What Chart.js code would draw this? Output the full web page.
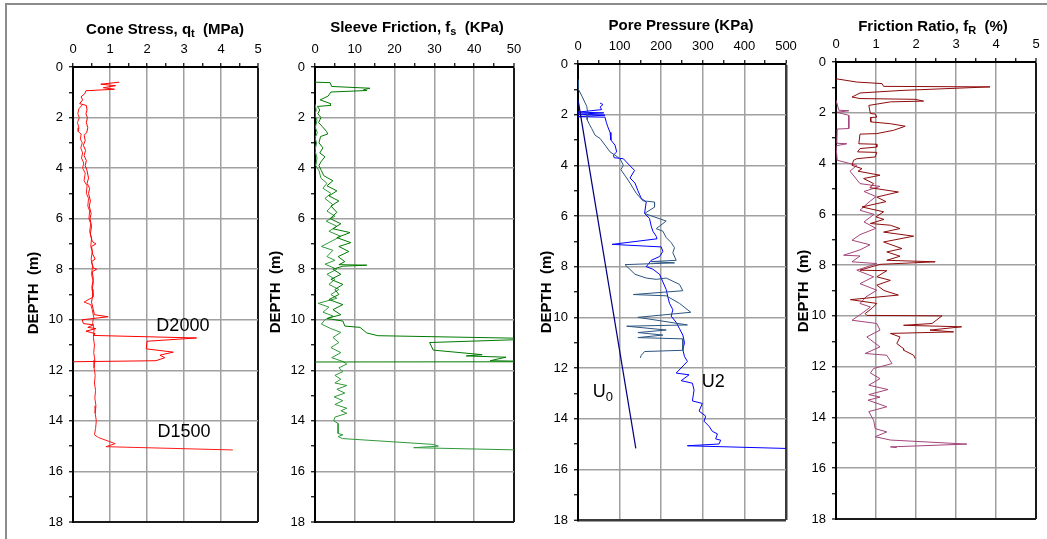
<!DOCTYPE html>
<html><head><meta charset="utf-8">
<script src="https://cdn.jsdelivr.net/npm/chart.js@4.4.1/dist/chart.umd.min.js"></script>
<style>
html,body{margin:0;padding:0;background:#fff;}
#wrap{position:relative;width:1047px;height:539px;overflow:hidden;background:#fff;}
#frame{position:absolute;left:5px;top:3px;width:1200px;height:700px;border-top:2px solid #8c8c8c;border-left:2px solid #8c8c8c;}
canvas{position:absolute;left:0;top:0;}
</style></head><body>
<div id="wrap"><div id="frame"></div>
<canvas id="c1" width="1047" height="539"></canvas>
<canvas id="c2" width="1047" height="539"></canvas>
<canvas id="c3" width="1047" height="539"></canvas>
<canvas id="c4" width="1047" height="539"></canvas>
</div>
<script>
// ---------- DATA : [value, depth(m)] ----------
const depthRange = [0, 18];

// Cone stress qt (MPa)
const qtD2000 = [[1.25,0.60],[0.75,0.68],[1.15,0.74],[0.82,0.82],[1.12,0.88],[0.35,0.94],[0.32,1.05],[0.22,1.18],[0.26,1.30],[0.18,1.45],[0.36,1.52],[0.38,1.70],[0.35,1.85],[0.39,2.00],[0.36,2.20],[0.40,2.40],[0.37,2.60],[0.30,2.70],[0.33,2.90],[0.28,3.10],[0.34,3.30],[0.30,3.50],[0.36,3.70],[0.33,3.90],[0.38,4.10],[0.42,4.40],[0.38,4.60],[0.45,4.80],[0.42,5.00],[0.47,5.30],[0.44,5.50],[0.49,5.80],[0.46,6.00],[0.50,6.30],[0.47,6.60],[0.52,6.90],[0.62,7.00],[0.50,7.10],[0.53,7.40],[0.60,7.60],[0.50,7.70],[0.55,7.95],[0.64,8.00],[0.52,8.10],[0.55,8.40],[0.51,8.70],[0.54,9.00],[0.50,9.30],[0.55,9.60],[0.58,9.80],[0.95,9.88],[0.25,10.00],[0.28,10.15],[0.55,10.20],[0.40,10.30],[0.62,10.35],[0.35,10.45],[0.60,10.55],[0.55,10.62],[3.34,10.72],[2.00,10.85],[1.98,11.15],[2.71,11.28],[2.35,11.40],[2.48,11.50],[2.24,11.62],[0,11.66]];
const qtD1500 = [[0.25,1.50],[0.16,1.65],[0.13,1.85],[0.17,2.00],[0.12,2.20],[0.16,2.40],[0.14,2.55],[0.22,2.65],[0.20,2.85],[0.25,3.00],[0.21,3.20],[0.26,3.40],[0.23,3.60],[0.29,3.80],[0.26,4.00],[0.33,4.20],[0.30,4.50],[0.38,4.70],[0.36,5.00],[0.42,5.20],[0.40,5.50],[0.45,5.70],[0.43,6.00],[0.48,6.20],[0.45,6.50],[0.50,6.80],[0.48,7.10],[0.52,7.30],[0.49,7.60],[0.53,7.90],[0.50,8.20],[0.55,8.50],[0.52,8.80],[0.54,9.10],[0.30,9.30],[0.48,9.40],[0.52,9.60],[0.56,9.90],[0.53,10.10],[0.57,10.40],[0.55,10.70],[0.58,11.00],[0.56,11.30],[0.59,11.60],[0.57,11.90],[0.60,12.20],[0.58,12.50],[0.61,12.80],[0.59,13.10],[0.62,13.40],[0.60,13.70],[0.63,14.00],[0.61,14.30],[0.58,14.55],[0.69,14.66],[1.14,14.90],[0.89,15.02],[4.32,15.15]];

// Sleeve friction fs (kPa)
const fsD2000 = [[0,0.60],[3.8,0.62],[4.2,0.77],[13.8,0.84],[12.2,0.90],[13.0,0.93],[4.0,0.99],[3.3,1.15],[1.3,1.30],[3.9,1.45],[3.9,1.52],[0.6,1.56],[1.2,1.70],[0.7,1.85],[1.5,2.00],[0.9,2.20],[1.8,2.35],[2.9,2.55],[3.2,2.65],[1.4,2.75],[1.0,3.00],[2.0,3.20],[1.2,3.40],[2.5,3.55],[1.5,3.75],[1.0,3.90],[1.6,4.10],[2.2,4.30],[4.5,4.50],[3.0,4.70],[5.5,4.90],[3.5,5.10],[6.0,5.30],[4.0,5.50],[5.5,5.75],[3.8,6.00],[6.5,6.20],[4.5,6.40],[8.8,6.55],[5.5,6.75],[9.0,6.95],[6.0,7.10],[8.5,7.30],[5.8,7.50],[7.5,7.70],[6.0,7.82],[13.0,7.84],[7.0,7.88],[4.5,8.00],[6.5,8.20],[4.0,8.40],[7.0,8.60],[5.0,8.80],[6.0,9.00],[3.5,9.20],[7.0,9.40],[4.5,9.60],[6.5,9.80],[3.0,9.95],[7.0,10.05],[7.5,10.25],[11.3,10.30],[13.0,10.52],[15.8,10.63],[58,10.75],[28.8,10.90],[29.7,11.20],[42,11.38],[38,11.43],[48,11.48],[44,11.62],[60,11.66],[0,11.67]];
const fsD1500 = [[0,1.47],[0.3,1.70],[0,1.90],[0.5,2.10],[0.1,2.40],[0.6,2.60],[0,2.80],[0.4,3.00],[0,3.30],[0.5,3.60],[0.2,3.90],[1.0,4.10],[1.5,4.40],[3.0,4.60],[2.0,4.80],[4.0,5.00],[2.5,5.20],[4.5,5.45],[3.0,5.70],[5.0,5.90],[2.8,6.10],[5.5,6.30],[3.5,6.50],[6.5,6.70],[1.6,7.10],[4.5,7.25],[3.0,7.50],[5.0,7.65],[2.5,7.80],[5.5,8.00],[3.0,8.20],[5.0,8.40],[3.5,8.60],[6.0,8.80],[4.0,9.00],[5.5,9.15],[0.8,9.35],[3.5,9.50],[2.0,9.70],[4.5,9.85],[2.5,10.00],[1.6,10.17],[4.0,10.35],[6.5,10.50],[4.5,10.70],[6.0,10.90],[4.0,11.10],[6.5,11.30],[4.2,11.50],[7.0,11.65],[8.0,11.75],[6.0,11.90],[7.0,12.05],[5.0,12.20],[6.5,12.35],[5.0,12.50],[8.0,12.60],[5.5,12.75],[7.5,12.90],[4.8,13.05],[7.0,13.20],[5.0,13.35],[8.0,13.50],[6.5,13.60],[8.0,13.70],[5.0,13.85],[4.7,14.00],[5.8,14.10],[5.8,14.50],[7.0,14.55],[5.8,14.62],[6.9,14.70],[29.7,14.93],[31.0,15.00],[24.8,15.06],[60,15.18]];

// Pore pressure u2 (kPa) and hydrostatic u0
const u2D2000 = [[1.5,0.62],[0,0.97],[9.5,1.27],[21,1.67],[24,1.99],[22,2.20],[28,2.40],[33,2.55],[41,2.81],[53,2.94],[65,3.20],[77,3.47],[89,3.60],[101,3.74],[109,4.00],[103,4.17],[117,4.50],[125,4.70],[140,5.10],[156,5.40],[184,5.45],[184,5.65],[160,5.90],[212,6.20],[188,6.50],[204,6.60],[212,6.85],[224,7.05],[232,7.25],[228,7.45],[236,7.75],[176,7.80],[232,7.85],[113,7.92],[137,8.30],[164,8.45],[188,8.50],[212,8.45],[244,8.70],[252,8.95],[133,9.10],[212,9.15],[244,9.45],[271,9.80],[144,10.00],[263,10.30],[117,10.35],[212,10.50],[144,10.60],[204,10.70],[144,10.80],[252,10.85],[252,11.30],[160,11.35],[152,11.50],[150,11.60]];
const u2D1500 = [[53,1.54],[60,1.60],[53,1.70],[57,1.80],[0,1.90],[62,1.93],[0,1.98],[65,2.02],[0,2.08],[65,2.10],[68,2.30],[71,2.45],[77,2.70],[79,3.00],[89,3.20],[93,3.47],[85,3.60],[87,3.70],[109,3.74],[124,4.00],[136,4.20],[125,4.50],[137,4.70],[144,5.00],[152,5.30],[164,5.45],[160,5.90],[172,6.10],[176,6.40],[180,6.60],[188,6.80],[190,6.90],[82,7.12],[200,7.22],[204,7.40],[196,7.60],[176,7.75],[164,8.00],[180,8.10],[196,8.30],[204,8.60],[212,8.90],[216,9.20],[220,9.45],[228,9.70],[224,9.95],[236,10.20],[244,10.45],[252,10.70],[256,11.00],[252,11.28],[256,11.55],[263,11.74],[236,12.20],[267,12.27],[248,12.50],[275,12.60],[279,12.87],[275,13.30],[299,13.40],[291,13.70],[307,13.90],[303,14.10],[315,14.30],[323,14.50],[335,14.60],[331,14.80],[343,14.85],[339,15.00],[263,15.07],[600,15.22]];
const u0Line = [[0,1.40],[139,15.17]];

// Friction ratio fR (%)
const frD2000 = [[0,0.66],[0.52,0.79],[1.15,0.85],[1.19,0.96],[3.85,0.98],[1.65,1.12],[0.6,1.22],[0.4,1.38],[0.6,1.44],[1.98,1.47],[2.19,1.54],[1.36,1.57],[0.82,1.71],[0.86,2.03],[0.98,2.05],[1.02,2.17],[0.86,2.19],[0.87,2.36],[1.36,2.43],[1.73,2.53],[1.44,2.69],[1.02,2.82],[0.6,2.84],[0.57,3.22],[1.02,3.24],[1.02,3.35],[0.6,3.41],[0.54,3.54],[1.02,3.56],[0.98,3.74],[0.52,3.81],[0.44,3.87],[0.40,4.07],[0.65,4.20],[0.55,4.30],[1.10,4.46],[0.69,4.59],[0.94,4.79],[0.85,4.95],[1.56,5.12],[1.02,5.32],[1.25,5.50],[0.65,5.71],[1.19,5.90],[1.00,6.10],[1.20,6.20],[0.86,6.36],[1.36,6.43],[1.60,6.56],[1.19,6.70],[1.94,6.86],[1.19,7.09],[1.65,7.35],[1.27,7.48],[1.60,7.65],[1.27,7.81],[2.48,7.87],[1.10,7.97],[0.60,8.20],[1.27,8.22],[1.02,8.46],[1.36,8.60],[1.02,8.79],[1.20,9.00],[1.56,9.18],[0.36,9.36],[1.02,9.51],[0.90,9.70],[0.73,9.91],[0.77,9.98],[2.65,10.00],[2.40,10.30],[1.69,10.37],[3.14,10.43],[2.35,10.56],[2.94,10.63],[1.36,10.69],[1.60,10.83],[1.52,11.09],[1.69,11.29],[1.69,11.35],[1.94,11.55],[1.98,11.68]];
const frD1500 = [[0,1.50],[0.07,1.90],[0.32,1.92],[0.03,1.98],[0.32,2.10],[0.32,2.62],[0.03,2.64],[0.02,3.20],[0.27,3.22],[0,3.30],[0.03,3.87],[0.52,4.07],[0.35,4.30],[0.60,4.79],[1.10,4.90],[0.70,5.10],[1.00,5.30],[0.80,5.55],[0.60,5.84],[0.95,6.00],[0.70,6.30],[1.00,6.55],[0.60,6.80],[0.40,7.02],[0.85,7.20],[0.60,7.40],[0.19,7.61],[0.60,7.64],[0.40,7.87],[1.02,7.94],[0.52,8.20],[0.94,8.46],[0.60,8.73],[1.02,8.99],[0.75,9.25],[0.60,9.51],[0.86,9.65],[0.65,9.90],[0.40,10.17],[1.02,10.30],[1.10,10.56],[0.77,10.83],[1.10,11.22],[0.73,11.48],[1.27,11.55],[1.40,11.88],[0.94,12.07],[0.86,12.25],[1.10,12.47],[0.82,12.73],[1.30,12.90],[0.82,13.10],[1.10,13.20],[0.80,13.32],[1.27,13.58],[0.82,13.77],[0.94,14.11],[0.98,14.44],[1.27,14.57],[0.98,14.76],[1.36,14.89],[3.27,15.05],[1.36,15.16],[1.52,15.19]];

// ---------- RENDERING ----------
const FONT = "'Liberation Sans', Arial, sans-serif";
const W = 1047, H = 539;
const near = (a, b) => Math.abs(a - b) < 1e-6;
const isMult = (v, m) => Math.abs(v / m - Math.round(v / m)) < 1e-6;

function drawRich(ctx, parts, cx, cy) {
  let w = 0;
  parts.forEach(p => { ctx.font = p.font; p._w = ctx.measureText(p.t).width; w += p._w; });
  let x = cx - w / 2;
  ctx.textAlign = 'left'; ctx.textBaseline = 'middle';
  parts.forEach(p => { ctx.font = p.font; ctx.fillText(p.t, x, cy + (p.dy || 0)); x += p._w; });
}

const textPlugin = {
  id: 'panelText',
  afterDraw(chart, args, o) {
    const ctx = chart.ctx;
    ctx.save();
    ctx.fillStyle = '#000';
    drawRich(ctx, o.title, o.titleX, o.titleY);
    ctx.save();
    ctx.translate(o.yTitleX, o.yTitleY);
    ctx.rotate(-Math.PI / 2);
    ctx.font = 'bold 15px ' + FONT;
    ctx.textAlign = 'center'; ctx.textBaseline = 'middle';
    ctx.fillText('DEPTH  (m)', 0, 0);
    ctx.restore();
    (o.notes || []).forEach(n => {
      const x = chart.scales.x.getPixelForValue(n.at[0]);
      const y = chart.scales.y.getPixelForValue(n.at[1]);
      drawRich(ctx, n.parts, x, y);
    });
    ctx.restore();
  }
};

const TB = 'bold 15px ' + FONT, TS = 'bold 11px ' + FONT;
const NB = '18px ' + FONT, NS = '13px ' + FONT;

function makePanel(id, p) {
  const gridColor = (max, major) => c => {
    const v = c.tick ? c.tick.value : null;
    if (v === null) return 'rgba(0,0,0,0)';
    if (near(v, max)) return p.edgeColor || '#1a1a1a';
    return isMult(v, major) ? '#a0a0a0' : 'rgba(0,0,0,0)';
  };
  const gridWidth = max => c => (c.tick && near(c.tick.value, max)) ? (p.edgeWidth || 2) : 1.5;
  return new Chart(document.getElementById(id), {
    type: 'scatter',
    data: {
      datasets: p.series.map(s => ({
        data: s.pts.map(([x, y]) => ({ x, y })),
        showLine: true, borderColor: s.color, backgroundColor: s.color,
        borderWidth: s.width || 1, pointRadius: 0, pointHoverRadius: 0, tension: 0, fill: false
      }))
    },
    options: {
      responsive: false, animation: false, events: [],
      layout: { padding: { left: 0, top: 0, right: W - p.area[2], bottom: H - p.area[3] } },
      plugins: { legend: { display: false }, tooltip: { enabled: false }, panelText: p.text },
      scales: {
        x: {
          type: 'linear', position: 'top', min: p.xRange[0], max: p.xRange[1],
          afterFit: s => { s.height = p.area[1]; },
          border: { display: true, color: '#000', width: 2 },
          grid: { color: gridColor(p.xRange[1], p.xMajor), lineWidth: gridWidth(p.xRange[1]),
                  tickColor: '#000', tickLength: 4, tickWidth: 1.2 },
          ticks: { stepSize: p.xMinor, autoSkip: false, maxRotation: 0, padding: 6, color: '#000',
                   font: { family: FONT, size: 13 },
                   callback: v => isMult(v, p.xMajor) ? String(Math.round(v)) : '' }
        },
        y: {
          type: 'linear', position: 'left', reverse: true, min: depthRange[0], max: depthRange[1],
          afterFit: s => { s.width = p.area[0]; },
          border: { display: true, color: '#000', width: 2 },
          grid: { color: gridColor(depthRange[1], 2), lineWidth: gridWidth(depthRange[1]),
                  tickColor: '#000', tickLength: 4, tickWidth: 1.2 },
          ticks: { stepSize: 1, autoSkip: false, padding: 6, color: '#000',
                   font: { family: FONT, size: 13 },
                   callback: v => isMult(v, 2) ? String(Math.round(v)) : '' }
        }
      }
    },
    plugins: [textPlugin]
  });
}

makePanel('c1', {
  area: [73, 67, 258, 522], xRange: [0, 5], xMinor: 0.5, xMajor: 1,
  series: [{ pts: qtD2000, color: '#ff0000' }, { pts: qtD1500, color: '#ff1a1a' }],
  text: {
    title: [{ t: 'Cone Stress, q', font: TB }, { t: 't', font: TS, dy: 4 }, { t: '  (MPa)', font: TB }],
    titleX: 165, titleY: 30, yTitleX: 34, yTitleY: 293,
    notes: [
      { at: [2.97, 10.26], parts: [{ t: 'D2000', font: NB }] },
      { at: [3.0, 14.45], parts: [{ t: 'D1500', font: NB }] }
    ]
  }
});

makePanel('c2', {
  area: [315, 67, 514, 522], xRange: [0, 50], xMinor: 5, xMajor: 10,
  series: [{ pts: fsD2000, color: '#007a00' }, { pts: fsD1500, color: '#2f9a3a' }],
  text: {
    title: [{ t: 'Sleeve Friction, f', font: TB }, { t: 's', font: TS, dy: 4 }, { t: '  (KPa)', font: TB }],
    titleX: 417, titleY: 28, yTitleX: 276, yTitleY: 292
  }
});

makePanel('c3', {
  area: [578, 64, 786, 520], xRange: [0, 500], xMinor: 50, xMajor: 100, edgeColor: '#3a3a3a', edgeWidth: 2.5,
  series: [{ pts: u0Line, color: '#000080', width: 1.2 }, { pts: u2D2000, color: '#2b5580' }, { pts: u2D1500, color: '#0000ff' }],
  text: {
    title: [{ t: 'Pore Pressure (KPa)', font: TB }],
    titleX: 681, titleY: 26, yTitleX: 547, yTitleY: 292,
    notes: [
      { at: [60, 12.94], parts: [{ t: 'U', font: NB }, { t: '0', font: NS, dy: 6 }] },
      { at: [325, 12.55], parts: [{ t: 'U2', font: NB }] }
    ]
  }
});

makePanel('c4', {
  area: [836, 62, 1036, 519], xRange: [0, 5], xMinor: 0.5, xMajor: 1,
  series: [{ pts: frD2000, color: '#8e0b0b' }, { pts: frD1500, color: '#a3447a' }],
  text: {
    title: [{ t: 'Friction Ratio, f', font: TB }, { t: 'R', font: TS, dy: 4 }, { t: '  (%)', font: TB }],
    titleX: 933, titleY: 27, yTitleX: 804, yTitleY: 291
  }
});
</script>
</body></html>
